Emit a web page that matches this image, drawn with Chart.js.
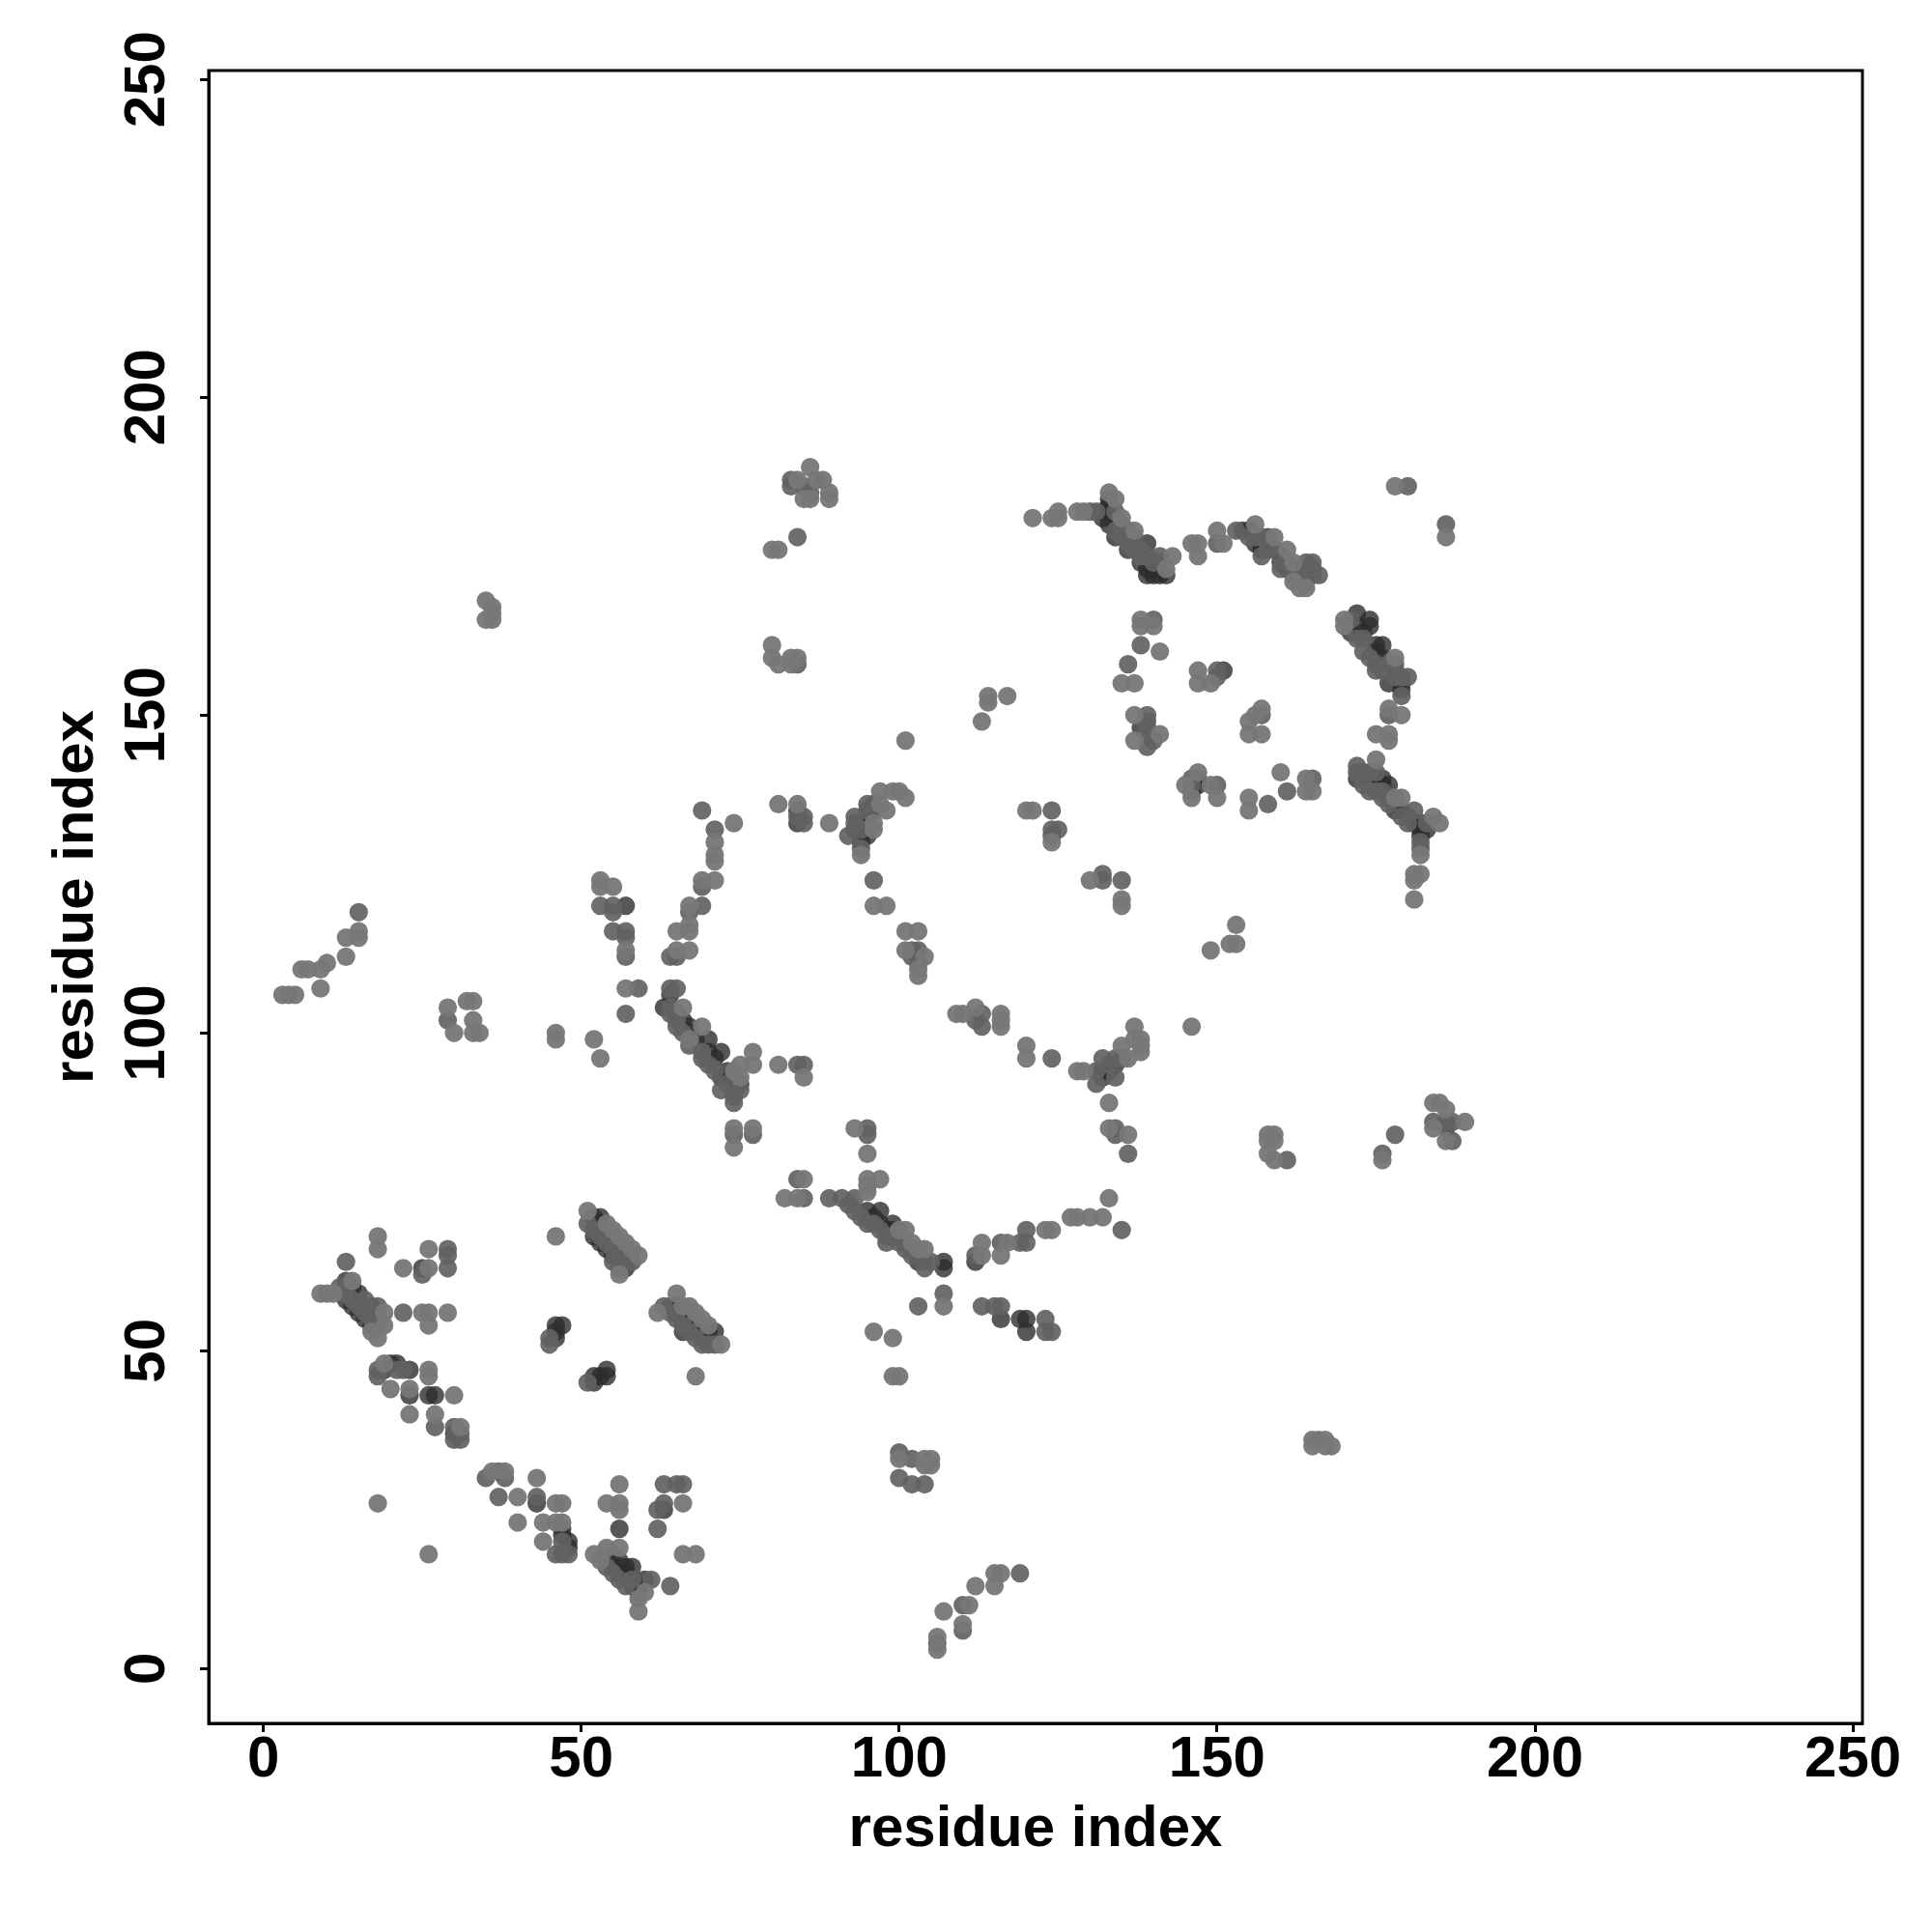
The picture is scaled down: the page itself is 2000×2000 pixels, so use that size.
<!DOCTYPE html>
<html><head><meta charset="utf-8">
<script src="https://cdn.jsdelivr.net/npm/chart.js@4"></script>
<style>html,body{margin:0;padding:0;background:#fff}canvas{display:block}</style>
</head><body><canvas id="c" width="2000" height="2000"></canvas>
<script>
const tickValues=[0,50,100,150,200,250];
const axisTitle="residue index";
const lightPoints=[[9,59],[10,59],[11,59],[18,68],[18,66],[26,66],[22,63],[26,63],[25,56],[26,56],[29,56],[19,56],[19,54],[26,54],[18,52],[17,53],[14,61],
[19,48],[26,47],[26,46],[20,44],[23,44],[30,43],[23,40],[27,40],[31,38],[36,31],[38,31],[40,27],[40,23],[43,30],[46,26],[47,26],[44,23],[46,23],[44,20],[47,23],[52,18],[53,17],[54,19],[56,19],[56,29],[54,26],[56,26],[56,25],[66,18],[68,18],[66,26],[60,12],[59,11],[59,9],[46,68],[18,26],[26,18],
[51,72],[54,70],[55,69],[56,68],[57,67],[58,66],[59,65],[56,62],[65,59],[66,57],[67,57],[68,56],[69,55],[70,54],[72,51],[62,56],[68,46],
[74,85],[74,82],[77,85],[93,85],[95,81],[133,89],[133,85],[136,84],[133,74],[132,71],[130,71],[128,71],[127,71],[124,69],[123,69],[117,67],[116,65],[113,67],[113,65],[85,77],[82,74],[84,74],[95,77],[97,77],[95,75],[95,76],[100,69],[101,69],[102,67],[103,66],[104,66],[96,53],[99,52],[99,46],[100,46],[105,33],[104,33],[105,32],[104,32],[100,33],[116,15],[115,15],[115,13],[112,13],[111,10],[110,7],[107,9],[106,5],[106,3],[107,57],
[121,181],[124,181],[125,181],[125,182],[128,182],[129,182],[133,185],[134,184],[135,181],[137,179],[143,175],[142,173],[146,177],[147,177],[147,175],[150,179],[151,177],[156,180],[159,178],[161,176],[162,174],[163,170],[164,170],[162,171],[178,186],[186,178],[170,165],[170,164],[178,159],[179,150],[175,147],[177,147],[177,146],[177,151],[175,143],[179,137],[178,137],[185,133],[184,134],[181,125],[182,125],[181,124],[181,121],[182,128],[138,165],[138,164],[140,164],[141,160],[135,155],[137,155],[147,157],[147,155],[149,155],[137,150],[137,146],[141,147],[157,151],[156,150],[155,149],[155,147],[157,147],[147,141],[145,139],[149,139],[146,137],[150,137],[160,141],[155,135],[155,137],[164,140],[164,138],[165,138],[120,135],[121,135],[124,130],[130,124],[135,121],[135,120],[153,117],[153,114],[152,114],[149,113],[146,101],
[74,133],[71,130],[71,128],[71,127],[69,124],[71,124],[67,120],[67,117],[65,116],[67,116],[67,113],[65,113],[53,124],[55,123],[53,123],[57,113],[57,107],[52,99],[53,96],[66,104],[69,101],[67,99],[75,95],[77,97],[77,95],[74,94],[75,93],[81,95],[85,93],[81,136],[84,136],[89,133],[97,138],[99,138],[100,138],[101,137],[98,135],[97,136],[96,133],[96,132],[94,128],[96,120],[98,120],[101,116],[103,116],[101,113],[104,112],[103,110],[103,109],[109,103],[110,103],[112,104],[116,103],[116,102],[116,101],[120,98],[120,96],[3,106],[4,106],[5,106],[6,110],[7,110],[9,107],[9,110],[10,111],[13,112],[13,115],[15,115],[15,116],[29,104],[30,100],[32,105],[33,105],[33,102],[33,100],[34,100],[46,100],[46,99],[35,168],[36,167],[35,165],[36,165],[36,166],[80,176],[81,176],[86,189],[88,187],[89,185],[89,184],[85,184],[86,184],[84,187],[87,187],[80,161],[80,159],[81,158],[83,159],[84,159],[83,158],[101,146],[113,149],[114,153],[114,152],[117,153],[176,80],[184,89],[185,89],[186,88],[184,85],[186,83],[189,86],[158,84],[159,84],[158,83],[159,83],[158,81],[159,80],[165,36],[166,36],[167,36],[165,35],[167,35],[168,35],[128,94],[129,94],[136,96],[137,101],[137,99],[138,99],[138,98],[138,97],[135,98]];
const midPoints=[[13,64],[29,66],[29,65],[29,63],[22,56],[25,62],[12,60],[13,60],[13,59],[14,58],[15,57],[16,56],[17,55],[18,54],[16,58],[18,57],[18,47],[18,46],[21,47],[22,47],[27,38],[30,38],[31,37],[30,36],[31,36],[35,30],[37,31],[38,30],[37,27],[43,27],[46,18],[47,18],[48,18],[47,20],[62,22],[63,29],[65,29],[66,29],[63,26],[62,25],[61,14],[64,13],[58,14],[57,13],[56,14],[55,15],[54,16],
[51,70],[52,69],[53,68],[54,67],[55,66],[56,65],[55,64],[57,64],[58,64],[56,63],[63,57],[64,56],[65,55],[66,54],[67,53],[68,52],[69,51],[71,51],[70,51],
[45,51],[45,52],[51,45],[74,84],[77,84],[95,85],[95,84],[134,85],[134,84],[136,81],[135,69],[120,69],[120,67],[119,67],[116,67],[112,65],[84,77],[85,74],[89,74],[91,74],[93,74],[92,73],[93,72],[94,71],[95,70],[96,70],[97,69],[98,68],[99,68],[100,67],[101,66],[102,65],[103,65],[104,64],[105,64],[98,67],[104,63],[107,59],[103,57],[113,57],[115,57],[116,57],[123,55],[123,53],[124,53],[100,34],[100,30],[102,33],[102,29],[104,29],[119,15],[110,10],[110,6],[106,4],
[130,182],[131,182],[134,182],[135,180],[136,179],[137,178],[138,176],[139,175],[140,174],[141,175],[134,179],[135,178],[136,177],[137,176],[138,175],[153,179],[156,178],[157,178],[155,178],[158,176],[157,175],[160,175],[160,173],[161,174],[162,172],[163,172],[164,171],[165,174],[164,174],[165,172],[166,172],[150,177],[180,186],[186,180],[171,165],[173,162],[172,162],[173,160],[175,158],[175,157],[174,159],[176,157],[178,158],[178,156],[179,156],[180,156],[179,153],[177,150],[177,158],[172,142],[175,141],[174,141],[174,138],[176,138],[175,138],[173,139],[177,136],[176,137],[179,134],[180,133],[181,135],[183,133],[182,130],[182,129],[138,161],[136,158],[140,165],[139,150],[139,149],[139,148],[139,147],[139,145],[140,146],[150,157],[150,156],[157,150],[146,140],[146,139],[150,139],[158,136],[161,138],[165,140],[124,135],[124,132],[125,132],[124,131],[132,125],[132,124],[135,124],
[69,135],[71,132],[69,123],[69,120],[67,119],[65,112],[64,112],[53,120],[55,120],[55,119],[55,116],[57,116],[57,115],[57,112],[59,107],[57,103],[64,107],[65,107],[64,104],[64,103],[65,102],[65,101],[66,100],[67,98],[69,97],[69,96],[70,95],[71,94],[72,91],[73,92],[75,91],[74,90],[74,89],[84,95],[85,95],[84,134],[85,134],[85,133],[93,134],[93,133],[92,131],[95,136],[95,135],[94,132],[94,129],[96,124],[102,113],[102,112],[103,113],[103,111],[112,102],[113,101],[113,103],[124,96],[15,119],[29,102],[83,187],[83,186],[85,186],[86,185],[84,178],[84,158],[176,81],[178,84],[184,86],[186,86],[187,86],[187,83],[161,80],[131,92],[131,94],[132,96],[133,95],[134,96],[135,96],[134,93],[172,141]];
const darkPoints=[[13,61],[13,58],[14,60],[14,57],[15,59],[15,56],[16,55],[17,57],[17,54],[18,55],[25,63],[19,47],[20,48],[21,48],[23,47],[23,43],[26,43],[27,43],[30,37],[43,26],[48,20],[48,19],[47,21],[47,22],[55,18],[55,16],[56,17],[56,22],[57,16],[58,16],[57,15],[58,13],[59,13],[59,12],[60,14],[56,15],[63,25],
[53,71],[52,71],[53,70],[52,68],[54,68],[53,67],[55,67],[54,66],[56,66],[55,65],[57,65],[57,63],[64,57],[65,57],[65,56],[66,55],[67,55],[68,54],[66,53],[69,53],[70,53],[71,53],[69,52],[68,53],
[46,54],[47,54],[46,53],[46,52],[52,46],[52,45],[54,47],[54,46],[53,46],
[97,72],[99,70],[99,69],[95,72],[96,71],[97,70],[98,69],[100,68],[101,67],[102,66],[103,64],[107,64],[107,63],[112,64],[116,55],[119,55],[120,55],[120,53],
[132,182],[132,181],[133,183],[133,184],[133,180],[134,180],[135,179],[134,178],[136,178],[136,176],[137,177],[138,174],[139,177],[139,173],[139,172],[140,172],[141,172],[142,172],[140,173],[141,174],[154,179],[155,179],[156,177],[157,177],[158,178],[157,176],[159,176],[160,174],[161,173],[162,173],[163,173],[163,171],[164,172],[165,173],[172,166],[174,165],[174,164],[171,163],[172,164],[173,163],[175,161],[176,161],[175,160],[176,159],[177,155],[178,157],[179,155],[179,154],[172,140],[173,141],[175,140],[176,140],[174,139],[176,139],[177,139],[177,137],[178,135],[179,135],[180,134],[181,133],[182,133],[182,132],[182,131],[183,132],[138,148],[147,139],[146,138],[151,157],[147,140],
[93,132],[94,130],[95,133],[94,133],[95,131],[95,134],[96,135],[96,136],[84,133],[84,135],[64,106],[63,104],[65,103],[66,102],[67,101],[68,99],[67,100],[70,99],[70,97],[72,97],[71,96],[73,94],[72,93],[74,92],[74,91],[75,92],[57,120],[132,93],[133,94],[132,94],[134,95],[186,85]];

const ds=(points,color)=>({data:points.map(p=>({x:p[0],y:p[1]})),backgroundColor:color,borderWidth:0,pointRadius:9.6,pointHoverRadius:9.6});
const axisFont={family:"'Liberation Sans',Arial,sans-serif",size:60,weight:"bold"};
const box={id:"box",afterDatasetsDraw(c){const a=c.chartArea,x=c.ctx;x.save();x.strokeStyle="#000";x.lineWidth=3;x.strokeRect(a.left,a.top,a.right-a.left,a.bottom-a.top);x.restore();}};
const grid={display:true,drawOnChartArea:false,drawTicks:true,tickLength:9,tickWidth:3,tickColor:"#000"};
const setTicks=a=>{a.ticks=tickValues.map(v=>({value:v}));};
Chart.defaults.color="#000";
new Chart(document.getElementById("c"),{type:"scatter",
 data:{datasets:[ds(lightPoints,"rgba(120,120,120,0.96)"),ds(midPoints,"rgba(98,98,98,0.92)"),ds(darkPoints,"rgba(45,45,45,0.8)")]},
 options:{responsive:false,animation:false,events:[],
  layout:{padding:{top:73,right:72,left:0,bottom:0}},
  plugins:{legend:{display:false},tooltip:{enabled:false},title:{display:false}},
  scales:{
   x:{type:"linear",min:-8.6,max:251.5,grid,border:{display:true,color:"#000",width:3},afterBuildTicks:setTicks,
      afterFit(a){a.height=216;},
      ticks:{font:axisFont,color:"#000",padding:-7,maxRotation:0,minRotation:0,autoSkip:false},
      title:{display:true,text:axisTitle,font:axisFont,color:"#000",padding:{top:0,bottom:70}}},
   y:{type:"linear",min:-8.6,max:251.4,grid,border:{display:true,color:"#000",width:3},afterBuildTicks:setTicks,
      afterFit(a){a.width=216;},
      ticks:{font:axisFont,color:"#000",padding:3,minRotation:90,maxRotation:90,crossAlign:"center",autoSkip:false},
      title:{display:true,text:axisTitle,font:axisFont,color:"#000",padding:{top:43,bottom:0}}}
  }},plugins:[box]});
</script></body></html>
